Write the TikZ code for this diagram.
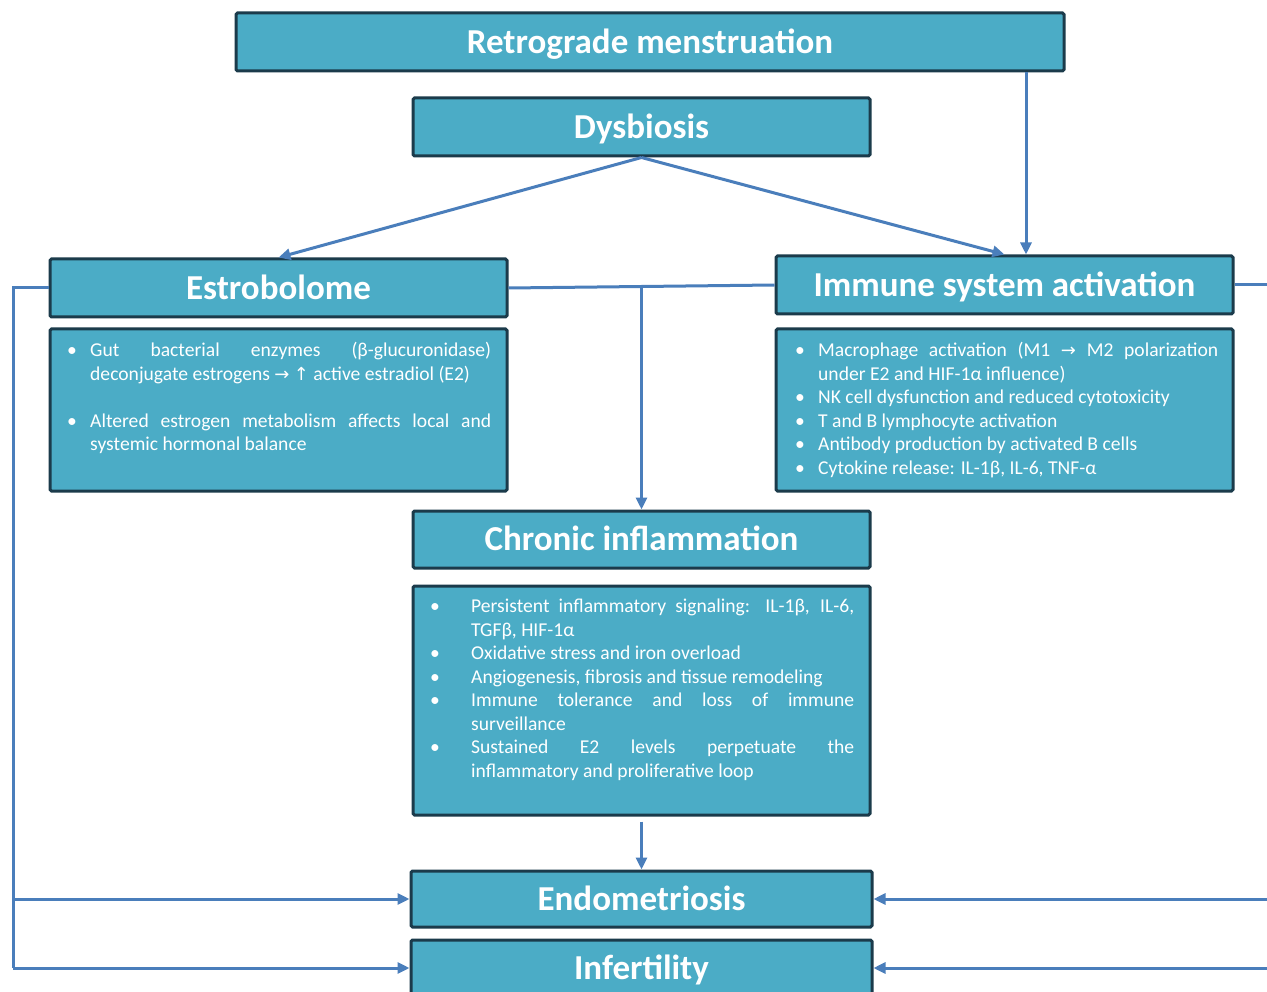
\documentclass[tikz,border=0pt]{standalone}
\usepackage{fontspec}
\setmainfont{Carlito}
\newfontfamily\symf{DejaVu Sans}
\usetikzlibrary{arrows.meta}
\definecolor{boxfill}{HTML}{4BACC6}
\definecolor{boxborder}{HTML}{1B3B4B}
\definecolor{conncol}{HTML}{4A7EBB}
\newcommand{\bitem}[2]{\noindent\hangindent=#1pt\hangafter=1\makebox[#1pt][l]{\textbullet}#2\par}
\newcommand{\rarr}{{\symf\fontsize{18}{18}\selectfont →}}
\newcommand{\uarr}{{\symf\fontsize{18}{18}\selectfont ↑}}
\newcommand{\nohyph}{\hyphenpenalty=10000\exhyphenpenalty=10000\tolerance=10000\relax}
\begin{document}
\begin{tikzpicture}[x=1pt,y=-1pt,
  box/.style={draw=boxborder, line width=3pt, fill=boxfill, text=white, inner sep=0pt, rounded corners=1.5pt},
  ttl/.style={box, font=\bfseries\fontsize{35}{40}\selectfont, text height=26pt, text depth=3.5pt},
  itemtext/.style={text=white, inner sep=0pt, anchor=north west, align=justify, font=\fontsize{19.6}{23.5}\selectfont\nohyph},
  line/.style={draw=conncol, line width=3pt},
  conn/.style={line, -{Triangle[length=12pt,width=11pt]}}]
\clip (0,0) rectangle (1267,992);
\fill[white] (0,0) rectangle (1267,992);

\node[ttl, minimum width=828, minimum height=58] (retro) at (650,42) {Retrograde menstruation};
\node[ttl, minimum width=457, minimum height=58] (dys) at (641.5,127) {Dysbiosis};
\node[ttl, minimum width=457, minimum height=58] (estro) at (278.5,288) {Estrobolome};
\node[ttl, minimum width=457, minimum height=58] (imm) at (1004.5,285) {Immune system activation};
\node[box, minimum width=457, minimum height=162] (estrotxt) at (278.5,410) {};
\node[box, minimum width=457, minimum height=162] (immtxt) at (1004.5,410) {};
\node[ttl, minimum width=457, minimum height=57] (chron) at (641.5,539.5) {Chronic inflammation};
\node[box, minimum width=457, minimum height=229] (chrtxt) at (641.5,700.5) {};
\node[ttl, minimum width=461, minimum height=56] (endo) at (641.5,899) {Endometriosis};
\node[ttl, minimum width=461, minimum height=56] (inf) at (641.5,968) {Infertility};

\node[itemtext, text width=424pt] (estroitems) at (67,342) {%
\bitem{23}{Gut bacterial enzymes (β-glucuronidase) deconjugate estrogens \rarr{} \uarr{} active estradiol (E2)}
\vspace{23.5pt}
\bitem{23}{Altered estrogen metabolism affects local and systemic hormonal balance}};

\node[itemtext, text width=423pt] (immitems) at (795,342) {%
\bitem{23}{Macrophage activation (M1 \rarr{} M2 polarization under E2 and HIF-1α influence)}
\bitem{23}{NK cell dysfunction and reduced cytotoxicity}
\bitem{23}{T and B lymphocyte activation}
\bitem{23}{Antibody production by activated B cells}
\bitem{23}{Cytokine release: IL-1β, IL-6, TNF-α}};

\node[itemtext, text width=424pt] (chritems) at (430,599) {%
\bitem{41}{Persistent inflammatory signaling: IL-1β, IL-6, TGFβ, HIF-1α}
\bitem{41}{Oxidative stress and iron overload}
\bitem{41}{Angiogenesis, fibrosis and tissue remodeling}
\bitem{41}{Immune tolerance and loss of immune surveillance}
\bitem{41}{Sustained E2 levels perpetuate the\linebreak inflammatory and proliferative loop}};

\coordinate (rx) at (1026,0);
\coordinate (L) at (13,0);
\coordinate (R) at (1275,0);
\coordinate (mid) at (chron.north |- estro.east);

\draw[conn] (dys.south) -- (estro.north);
\draw[conn] (dys.south) -- (imm.north);
\draw[conn] (retro.south -| rx) -- (imm.north -| rx);
\draw[line] (estro.east) -- (imm.west);
\draw[conn] (mid) -- (chron.north);
\draw[conn] ([yshift=-5pt]chrtxt.south) -- (endo.north);
\draw[line] (estro.west) -- (estro.west -| L) -- (L |- inf.west);
\draw[conn] (L |- endo.west) -- (endo.west);
\draw[conn] (L |- inf.west) -- (inf.west);
\draw[line] (imm.east) -- (imm.east -| R) -- (R |- inf.east);
\draw[conn] (R |- endo.east) -- (endo.east);
\draw[conn] (R |- inf.east) -- (inf.east);
\end{tikzpicture}
\end{document}
